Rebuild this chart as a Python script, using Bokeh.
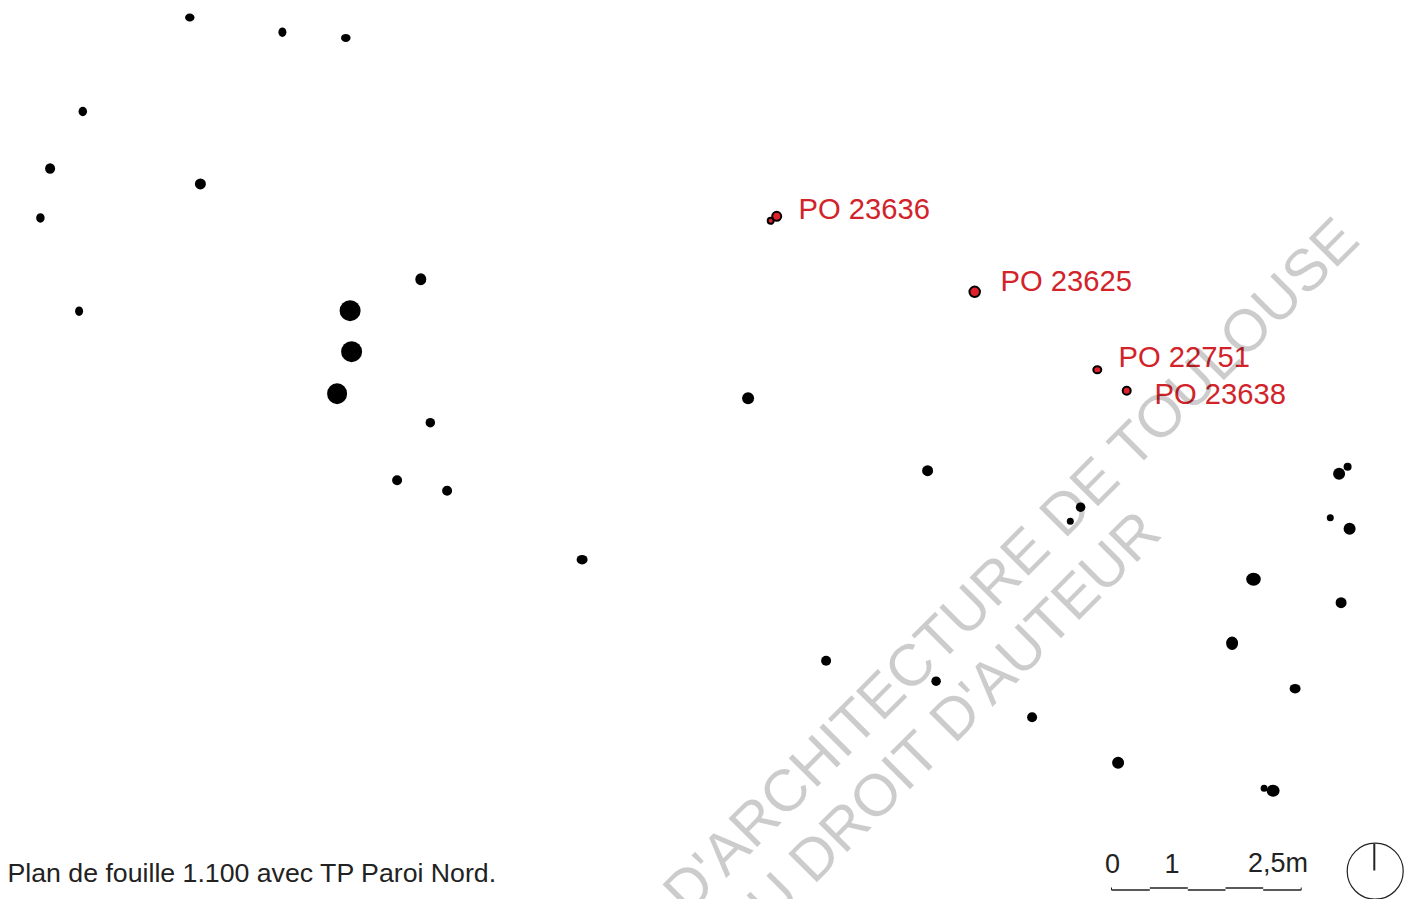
from bokeh.plotting import figure
from bokeh.models import Range1d
from bokeh.core.properties import value
from bokeh.embed import file_html
from bokeh.resources import INLINE

# Post holes read from the plan (x, y, width, height in plan units)
post_x = [189.3, 281.9, 345.3, 82.3, 49.6, 199.9, 39.9,
          420.3, 349.6, 351.1, 336.6, 78.6, 429.8, 396.6, 446.6, 581.6,
          1338.6, 1347.1, 1329.8, 1349.1, 1253, 1340.6, 1231.6, 1294.6, 1117.6, 1263.6, 1272.6, 1080.1, 1069.8,
          747.6, 927.1, 825.6, 935.6, 1031.6]
post_y = [17, 31.7, 37.4, 111, 168, 183.4, 217.4,
          278.7, 310.2, 351.2, 393.2, 310.7, 422.2, 479.7, 490.2, 559.2,
          473.2, 466.2, 517.2, 528.2, 578.7, 602.2, 642.7, 688.2, 762.2, 787.7, 790.2, 506.7, 520.7,
          397.7, 470.2, 660.2, 680.7, 716.7]
post_w = [9.5, 8, 9.5, 8.5, 10, 11, 8.5,
          11, 21, 21, 20, 8, 9.5, 10, 10, 11,
          12, 8, 7, 12, 14.5, 11, 12, 11, 12, 7, 13, 9.5, 7,
          12, 11, 10, 9.5, 10]
post_h = [8, 9.5, 8, 9.5, 10.5, 11, 9.5,
          12, 21, 21, 21, 9.5, 9.5, 10, 10, 9.5,
          12, 8, 7, 12, 13, 11, 13.5, 9.5, 12, 7, 12, 9.5, 7,
          12, 11, 10, 9.5, 10]

red_x = [776.2, 770.2, 974.2, 1096.8, 1126.2]
red_y = [215.8, 220.3, 291.3, 369.3, 390.3]
red_w = [9, 6, 10.5, 8, 8]
red_h = [9, 6, 10.5, 7, 8]

label_text = ["PO 23636", "PO 23625", "PO 22751", "PO 23638"]
label_x = [798, 1000, 1118, 1154]
label_y = [208, 280, 356, 393]

scale_x = [1111, 1149.3, 1187.3, 1225, 1262.7, 1300.7]
scale_y_low = 889.5
scale_y_high = 887.5
scale_text = ["0", "1", "2,5m"]
scale_text_x = [1104.5, 1164, 1247.5]
scale_text_y = [862.5, 862.5, 862.5]

caption = "Plan de fouille 1.100 avec TP Paroi Nord."
watermark_text = ["ECOLE NATIONALE SUPERIEURE D'ARCHITECTURE DE TOULOUSE",
                  "DOCUMENT SOUMIS AU DROIT D'AUTEUR"]
watermark_x = [1348, 1153]
watermark_y = [227, 517]

FONT = value("Liberation Sans")

p = figure(width=1413, height=899, output_backend="svg", toolbar_location=None,
           x_range=Range1d(0, 1413), y_range=Range1d(899, 0),
           x_axis_location=None, y_axis_location=None, min_border=0)
p.grid.visible = False
p.outline_line_color = None
p.background_fill_color = "white"

p.ellipse(post_x, post_y, width=post_w, height=post_h, fill_color="black", line_color=None)
p.ellipse(red_x, red_y, width=red_w, height=red_h, fill_color="#e0202a",
          line_color="black", line_width=2)

p.text(label_x, label_y, text=label_text, text_color="#d2232a", text_font=FONT,
       text_font_size="29.2px", text_align="left", text_baseline="middle")

p.text([7], [872], text=[caption], text_color="#222222", text_font=FONT,
       text_font_size="26.7px", text_align="left", text_baseline="middle")

p.text(scale_text_x, scale_text_y, text=scale_text, text_color="#222222", text_font=FONT,
       text_font_size="27px", text_align="left", text_baseline="middle")

for i in range(len(scale_x) - 1):
    yy = scale_y_low if i % 2 == 0 else scale_y_high
    p.line([scale_x[i], scale_x[i + 1]], [yy, yy], line_color="#222222", line_width=1.3)
p.line([scale_x[0], scale_x[0]], [scale_y_low, scale_y_high - 0.5], line_color="#222222", line_width=1)
p.line([scale_x[-1], scale_x[-1]], [scale_y_low, scale_y_high - 0.5], line_color="#222222", line_width=1)

p.ellipse([1374.7], [870.7], width=56, height=56, fill_color=None, line_color="#222222", line_width=1.2)
p.line([1373.8, 1373.8], [843.3, 870], line_color="#222222", line_width=2)

p.text(watermark_x, watermark_y, text=watermark_text, text_color="black", text_alpha=0.2,
       text_font=FONT, text_font_size="59px", angle=45, angle_units="deg",
       text_align="right", text_baseline="alphabetic")

open("out.html", "w").write(file_html(p, INLINE))
